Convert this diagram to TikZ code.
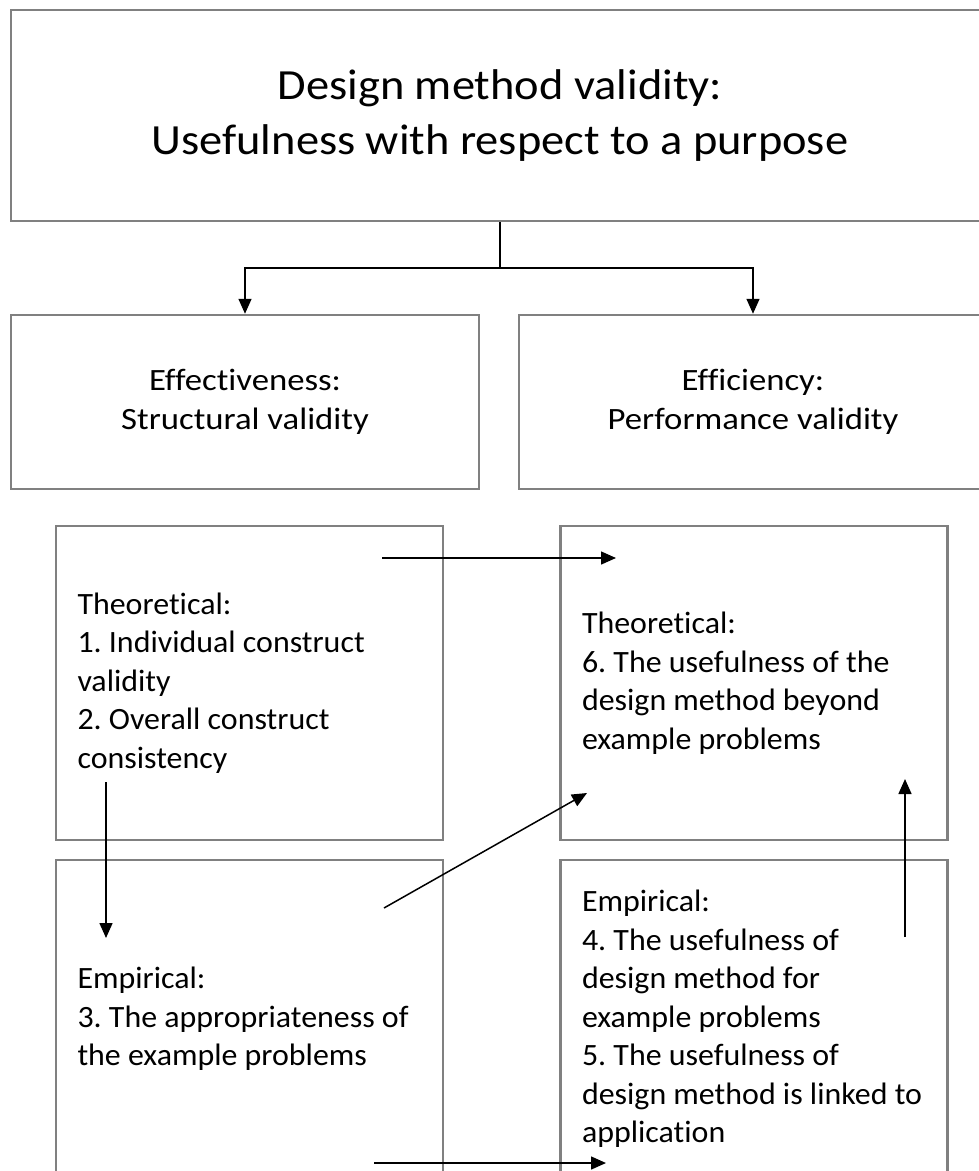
\documentclass[tikz,border=0pt]{standalone}
\usepackage{fontspec}
\setmainfont{Carlito}[FakeStretch=1.03, Ligatures=NoCommon]
\newfontfamily\widefont{Carlito}[FakeStretch=1.12, Ligatures=NoCommon]
\newfontfamily\titlefont{Carlito}[FakeStretch=1.08, Ligatures=NoCommon]
\usepackage{xcolor}
\usetikzlibrary{positioning, arrows.meta, calc}

\begin{document}
\begin{tikzpicture}[
  x=1pt, y=-1pt,
  >={Triangle[length=15pt, width=13pt]},
  box/.style={draw=gray, line width=2.5pt, inner sep=0pt,
              font=\frenchspacing\fontsize{31}{38.5}\selectfont},
  headbox/.style={box, align=center, minimum width=978pt, minimum height=211pt,
              font=\titlefont\fontsize{43}{55}\selectfont},
  midbox/.style={box, align=center, minimum width=468pt, minimum height=174pt,
              font=\widefont\fontsize{31}{38.5}\selectfont},
  listbox/.style={box, align=flush left, inner xsep=21.5pt, text width=344pt},
  arr/.style={->, line width=1.5pt, black},
]
  \useasboundingbox (0,0) rectangle (979,1171);

  % top box
  \node[headbox] (top) at (500,115.5) {Design method validity:\\Usefulness with respect to a purpose};

  % two criteria
  \node[midbox] (effective) at (245,402) {Effectiveness:\\Structural validity};
  \node[midbox] (efficient) at (753,402) {Efficiency:\\Performance validity};
  \coordinate (split) at (500,268);
  \draw[line width=1.5pt] (top.south) -- (split);
  \draw[arr] (split) -| (effective.north);
  \draw[arr] (split) -| (efficient.north);

  % theoretical row
  \node[listbox, minimum height=314pt] (theoL) at (249.5,683)
    {Theoretical:\\1. Individual construct\\validity\\2. Overall construct\\consistency};
  \node[listbox, minimum height=314pt] (theoR) at (754,683)
    {Theoretical:\\6. The usefulness of the\\design method beyond\\example problems};

  % empirical row
  \node[listbox, minimum height=318pt] (empL) at (249.5,1019)
    {Empirical:\\3. The appropriateness of\\the example problems};
  \node[listbox, minimum height=318pt] (empR) at (754,1019)
    {Empirical:\\4. The usefulness of\\design method for\\example problems\\5. The usefulness of\\design method is linked to\\application};

  % flow between the quadrants
  \coordinate (a1s) at (382,558);  \coordinate (a1e) at (616,558);
  \coordinate (a2s) at (106,782);  \coordinate (a2e) at (106,938);
  \coordinate (a3s) at (384,908);  \coordinate (a3e) at (587,793);
  \coordinate (a4s) at (905,937);  \coordinate (a4e) at (905,779);
  \coordinate (a5s) at (374,1163); \coordinate (a5e) at (606,1163);
  \foreach \s/\e in {a1s/a1e, a2s/a2e, a3s/a3e, a4s/a4e, a5s/a5e}
    \draw[arr] (\s) -- (\e);
\end{tikzpicture}
\end{document}
